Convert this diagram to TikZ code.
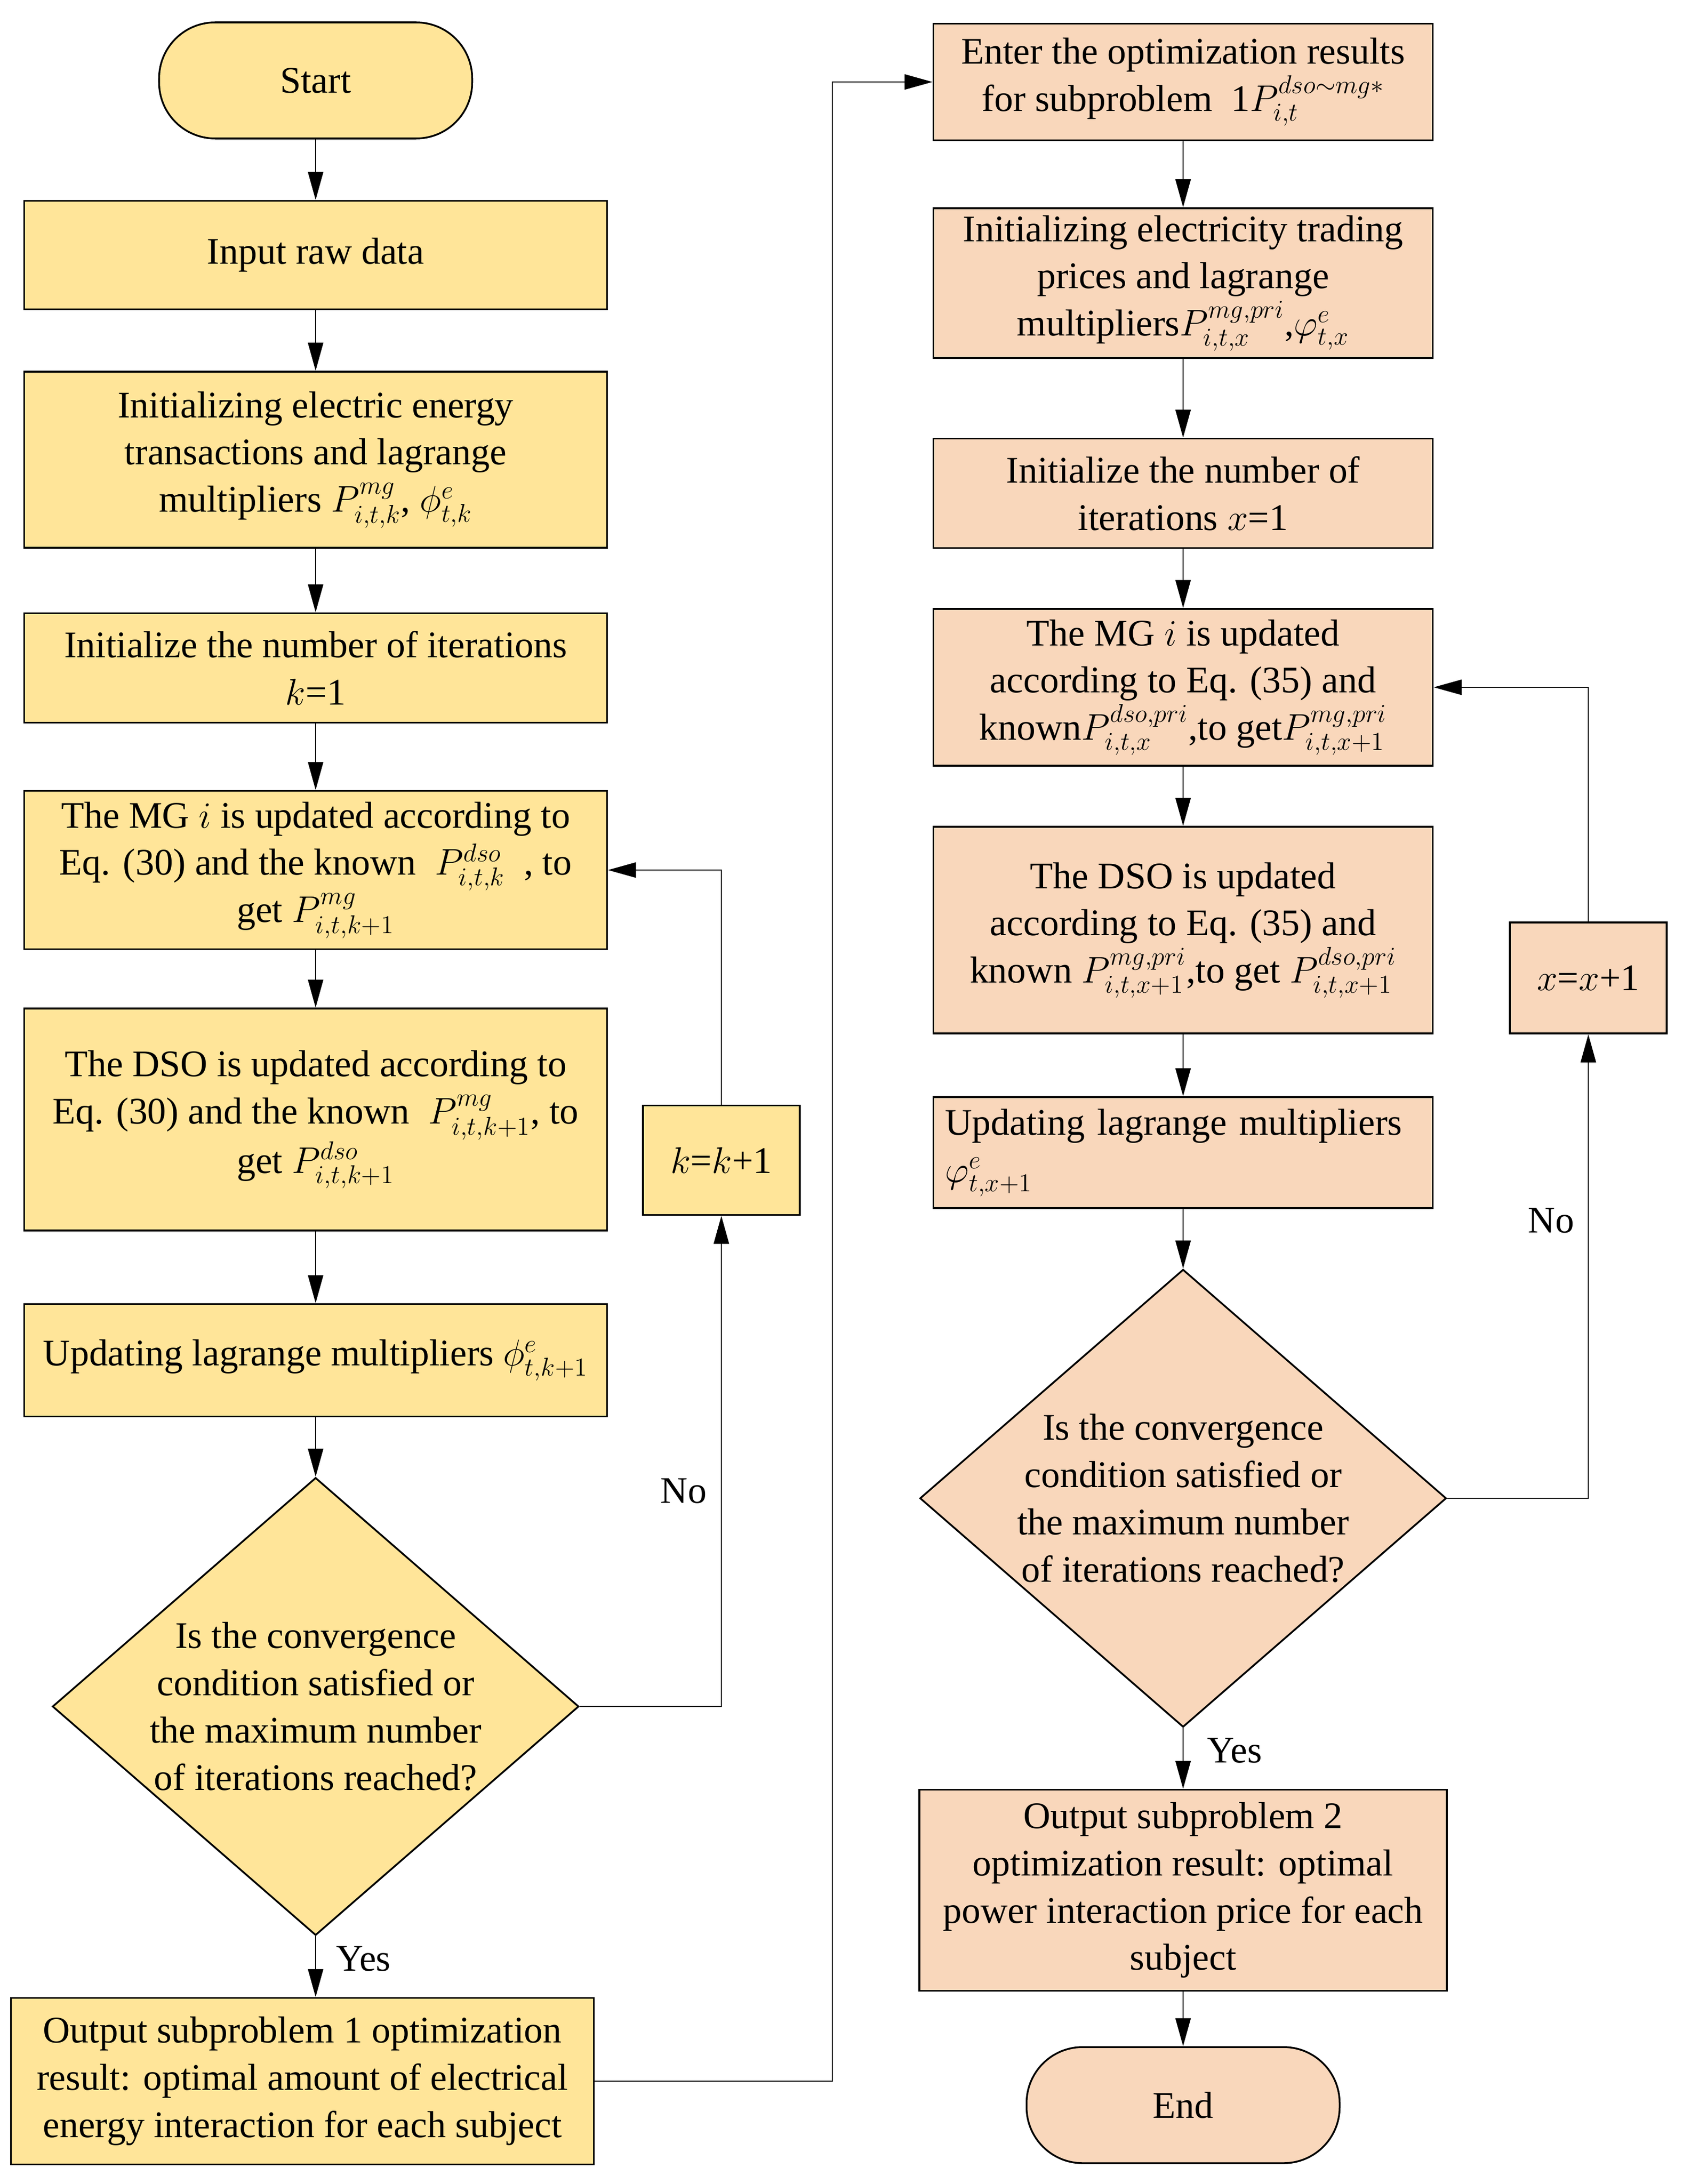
\documentclass[tikz,border=0pt]{standalone}
\usepackage{amsmath}
\usepackage{fontspec}
\setmainfont{Liberation Serif}
\usetikzlibrary{shapes.geometric}
\usetikzlibrary{arrows.meta}
\usetikzlibrary{calc}
\definecolor{paleyellow}{RGB}{255,229,153}
\definecolor{paleorange}{RGB}{249,215,187}

\tikzset{
    flowbox/.style={draw=black, line width=1pt, align=center, inner sep=2pt,
        font=\fontsize{21}{26.4}\selectfont},
    ybox/.style={flowbox, fill=paleyellow},
    obox/.style={flowbox, fill=paleorange},
    term/.style={rounded corners=1.1cm, minimum width=6.15cm, minimum height=2.28cm},
    check/.style={diamond, draw=black, line width=1pt, aspect=1.15, inner sep=0pt,
        minimum width=10.34cm, minimum height=8.99cm},
    link/.style={line width=0.7pt, -{Triangle[length=5.5mm,width=3mm]}},
    tag/.style={font=\fontsize{21}{26.4}\selectfont, align=center}
}

\begin{document}
\begin{tikzpicture}
    \useasboundingbox (0, 0) rectangle (33.05, -42.9);

    % left column: subproblem 1
    \node[ybox, term] (start) at (6.2, -1.58) {Start};
    \node[ybox, minimum width=11.45cm, minimum height=2.13cm] (input) at (6.2, -5.01) {Input raw data};
    \node[ybox, minimum width=11.45cm, minimum height=3.46cm] (initL) at (6.2, -9.03)
        {Initializing electric energy\\ transactions and lagrange\\ multipliers $P_{i,t,k}^{mg}$, $\phi_{t,k}^{e}$};
    \node[ybox, minimum width=11.45cm, minimum height=2.15cm] (iterL) at (6.2, -13.12)
        {Initialize the number of iterations\\ $k$=1};
    \node[ybox, minimum width=11.45cm, minimum height=3.11cm] (mgL) at (6.2, -17.09)
        {The MG $i$ is updated according to\\ Eq. (30) and the known \ $P_{i,t,k}^{dso}$ \ , to\\ get $P_{i,t,k+1}^{mg}$};
    \node[ybox, minimum width=11.45cm, minimum height=4.36cm] (dsoL) at (6.2, -21.99)
        {The DSO is updated according to\\ Eq. (30) and the known \ $P_{i,t,k+1}^{mg}$, to\\ get $P_{i,t,k+1}^{dso}$};
    \node[ybox, minimum width=11.45cm, minimum height=2.21cm] (updL) at (6.2, -26.72)
        {Updating lagrange multipliers $\phi_{t,k+1}^{e}$};
    \node[check, fill=paleyellow] (checkL) at (6.2, -33.52) {};
    \node[tag] (checkLtext) at (checkL) {Is the convergence\\ condition satisfied or\\ the maximum number\\ of iterations reached?};
    \node[ybox, minimum width=11.45cm, minimum height=3.27cm] (outL) at (5.94, -40.88)
        {Output subproblem 1 optimization\\ result: optimal amount of electrical\\ energy interaction for each subject};
    \node[ybox, minimum width=3.08cm, minimum height=2.15cm] (kinc) at (14.17, -22.79) {$k$=$k$+1};

    % right column: subproblem 2
    \node[obox, minimum width=9.81cm, minimum height=2.29cm] (enter) at (23.24, -1.61)
        {Enter the optimization results\\ for subproblem \ 1$P_{i,t}^{dso\sim mg*}$};
    \node[obox, minimum width=9.81cm, minimum height=2.94cm] (initR) at (23.24, -5.56)
        {Initializing electricity trading\\ prices and lagrange\\ multipliers$P_{i,t,x}^{mg,pri}$,$\varphi_{t,x}^{e}$};
    \node[obox, minimum width=9.81cm, minimum height=2.15cm] (iterR) at (23.24, -9.69)
        {Initialize the number of\\ iterations $x$=1};
    \node[obox, minimum width=9.81cm, minimum height=3.08cm] (mgR) at (23.24, -13.50)
        {The MG $i$ is updated\\ according to Eq. (35) and\\ known$P_{i,t,x}^{dso,pri}$,to get$P_{i,t,x+1}^{mg,pri}$};
    \node[obox, minimum width=9.81cm, minimum height=4.06cm] (dsoR) at (23.24, -18.27)
        {The DSO is updated\\ according to Eq. (35) and\\ known $P_{i,t,x+1}^{mg,pri}$,to get $P_{i,t,x+1}^{dso,pri}$};
    \node[obox, minimum width=9.81cm, minimum height=2.18cm, inner xsep=0.23cm, text width=9.35cm, align=left]
        (updR) at (23.24, -22.64) {Updating lagrange multipliers\\ $\varphi_{t,x+1}^{e}$};
    \node[check, fill=paleorange] (checkR) at (23.24, -29.43) {};
    \node[tag] (checkRtext) at (checkR) {Is the convergence\\ condition satisfied or\\ the maximum number\\ of iterations reached?};
    \node[obox, minimum width=10.36cm, minimum height=3.95cm] (outR) at (23.24, -37.13)
        {Output subproblem 2\\ optimization result: optimal\\ power interaction price for each\\ subject};
    \node[obox, term] (stop) at (23.24, -41.35) {End};
    \node[obox, minimum width=3.08cm, minimum height=2.18cm] (xinc) at (31.2, -19.21) {$x$=$x$+1};

    % branch labels
    \node[tag] (noL) at (13.43, -29.29) {No};
    \node[tag] (yesL) at (7.14, -38.48) {Yes};
    \node[tag] (noR) at (30.47, -23.98) {No};
    \node[tag] (yesR) at (24.25, -34.39) {Yes};

    \coordinate (jog) at (16.35, -20);

    \draw[link] (start) -- (input);
    \draw[link] (input) -- (initL);
    \draw[link] (initL) -- (iterL);
    \draw[link] (iterL) -- (mgL);
    \draw[link] (mgL) -- (dsoL);
    \draw[link] (dsoL) -- (updL);
    \draw[link] (updL) -- (checkL);
    \draw[link] (checkL.south) -- (checkL.south |- outL.north);
    \draw[link] (checkL.east) -| (kinc.south);
    \draw[link] (kinc.north) |- (mgL.east);
    \draw[link] (outL.east) -| (jog) |- (enter.west);

    \draw[link] (enter) -- (initR);
    \draw[link] (initR) -- (iterR);
    \draw[link] (iterR) -- (mgR);
    \draw[link] (mgR) -- (dsoR);
    \draw[link] (dsoR) -- (updR);
    \draw[link] (updR) -- (checkR);
    \draw[link] (checkR) -- (outR);
    \draw[link] (outR) -- (stop);
    \draw[link] (checkR.east) -| (xinc.south);
    \draw[link] (xinc.north) |- (mgR.east);
\end{tikzpicture}
\end{document}
